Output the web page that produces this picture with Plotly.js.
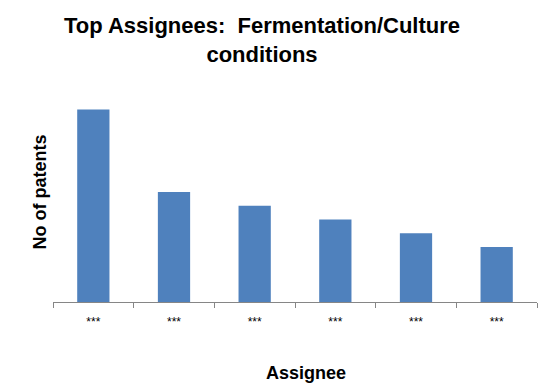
<!DOCTYPE html>
<html>
<head>
<meta charset="utf-8">
<script src="https://cdn.plot.ly/plotly-3.0.1.min.js"></script>
<style>html,body{margin:0;padding:0;background:#fff;}#chart{width:551px;height:389px;}</style>
</head>
<body>
<div id="chart"></div>
<script>
var categories = ["A1", "A2", "A3", "A4", "A5", "A6"];
var tickLabels = ["***", "***", "***", "***", "***", "***"];
var patents = [14, 8, 7, 6, 5, 4];

var trace = {
  type: 'bar',
  x: categories,
  y: patents,
  marker: {color: '#4F81BD'},
  hoverinfo: 'none'
};

var layout = {
  width: 551,
  height: 389,
  margin: {l: 53, r: 14, t: 82, b: 87},
  paper_bgcolor: '#ffffff',
  plot_bgcolor: '#ffffff',
  showlegend: false,
  bargap: 0.6,
  font: {family: 'Liberation Sans, Arial, sans-serif', color: '#000000'},
  title: {
    text: '<b>Top Assignees:  Fermentation/Culture<br>conditions</b>',
    font: {size: 22, color: '#000000', family: 'Liberation Sans, Arial, sans-serif'},
    xref: 'container', x: 262/551, xanchor: 'center',
    yref: 'container', y: 1 - 33/389, yanchor: 'top'
  },
  xaxis: {
    type: 'category',
    tickmode: 'array',
    tickvals: categories,
    ticktext: tickLabels,
    tickson: 'boundaries',
    ticks: 'outside',
    ticklen: 5,
    tickcolor: '#868686',
    tickfont: {size: 12, color: '#000000'},
    ticklabelstandoff: 9,
    showline: true,
    linecolor: '#868686',
    linewidth: 1,
    showgrid: false,
    zeroline: false
  },
  yaxis: {
    range: [0, 16],
    showticklabels: false,
    ticks: '',
    showgrid: false,
    zeroline: false,
    showline: false,
    title: {text: '<b>No of patents</b>', font: {size: 18, color: '#000000'}, standoff: 0}
  },
  annotations: [{
    text: '<b>Assignee</b>',
    font: {size: 18, color: '#000000'},
    xref: 'paper', x: (306 - 53) / 484, xanchor: 'center',
    yref: 'paper', y: -(385 - 302) / 220, yanchor: 'bottom',
    showarrow: false
  }]
};

Plotly.newPlot('chart', [trace], layout, {displayModeBar: false, staticPlot: true});
</script>
</body>
</html>
